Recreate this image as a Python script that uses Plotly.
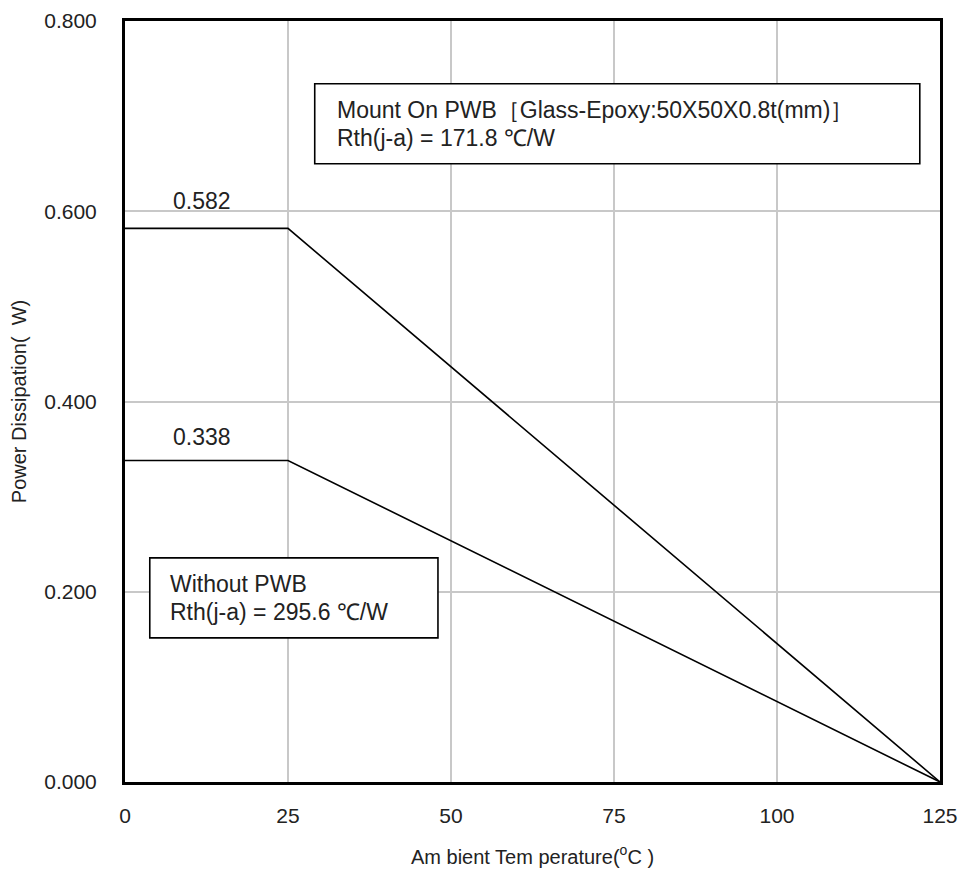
import plotly.graph_objects as go

temps = [0, 25, 125]
pwb_power = [0.582, 0.582, 0.0]
nopwb_power = [0.338, 0.338, 0.0]
x_ticks = [0, 25, 50, 75, 100, 125]
y_ticks = [0.0, 0.2, 0.4, 0.6, 0.8]
y_tick_text = ["0.000", "0.200", "0.400", "0.600", "0.800"]

FONT = "Liberation Sans, Arial, sans-serif"

fig = go.Figure()
for y in (pwb_power, nopwb_power):
    fig.add_trace(go.Scatter(x=temps, y=y, mode="lines",
                             line=dict(color="black", width=1.6),
                             showlegend=False, hoverinfo="skip"))

fig.update_layout(
    width=952, height=863,
    margin=dict(l=117, r=20, t=13, b=89, autoexpand=False),
    paper_bgcolor="white", plot_bgcolor="white",
    font=dict(family=FONT, size=21, color="#222"),
    xaxis=dict(range=[0, 125], tickvals=x_ticks, showgrid=True,
               gridcolor="#c8c8c8", gridwidth=1.5, zeroline=False,
               showline=True, linecolor="black", linewidth=3, mirror=True,
               ticks="", tickfont=dict(size=21), ticklabelstandoff=13,
               automargin=False, ticklabeloverflow="allow",
               title=dict(text="Am bient Tem perature(<sup>o</sup>C )",
                          font=dict(size=20), standoff=24)),
    yaxis=dict(range=[0, 0.8], tickvals=y_ticks, ticktext=y_tick_text,
               showgrid=True, gridcolor="#c8c8c8", gridwidth=1.5,
               zeroline=False, showline=True, linecolor="black", linewidth=3,
               mirror=True, ticks="", tickfont=dict(size=21),
               ticklabelstandoff=21, automargin=False,
               ticklabeloverflow="allow",
               title=dict(text="Power Dissipation(  W)",
                          font=dict(size=20), standoff=15)),
)

# Annotation boxes
fig.add_shape(type="rect", xref="x", yref="y", x0=29.1, x1=121.9,
              y0=0.650, y1=0.734, line=dict(color="black", width=1.6),
              fillcolor="white", layer="above")
fig.add_shape(type="rect", xref="x", yref="y", x0=3.8, x1=48.0,
              y0=0.1515, y1=0.2356, line=dict(color="black", width=1.6),
              fillcolor="white", layer="above")

ann = dict(xref="x", yref="y", showarrow=False, xanchor="left",
           yanchor="middle", font=dict(family=FONT, size=23, color="#222"))
fig.add_annotation(x=32.2, y=0.7066,
                   text="Mount On PWB［Glass-Epoxy:50X50X0.8t(mm)］", **ann)
fig.add_annotation(x=32.2, y=0.677, text="Rth(j-a) = 171.8 ℃/W", **ann)
fig.add_annotation(x=6.6, y=0.2083, text="Without PWB", **ann)
fig.add_annotation(x=6.6, y=0.1789, text="Rth(j-a) = 295.6 ℃/W", **ann)

lab = dict(xref="x", yref="y", showarrow=False, xanchor="center",
           yanchor="middle", font=dict(family=FONT, size=23, color="#222"))
fig.add_annotation(x=11.8, y=0.6105, text="0.582", **lab)
fig.add_annotation(x=11.8, y=0.3624, text="0.338", **lab)

fig.write_html("out.html")
